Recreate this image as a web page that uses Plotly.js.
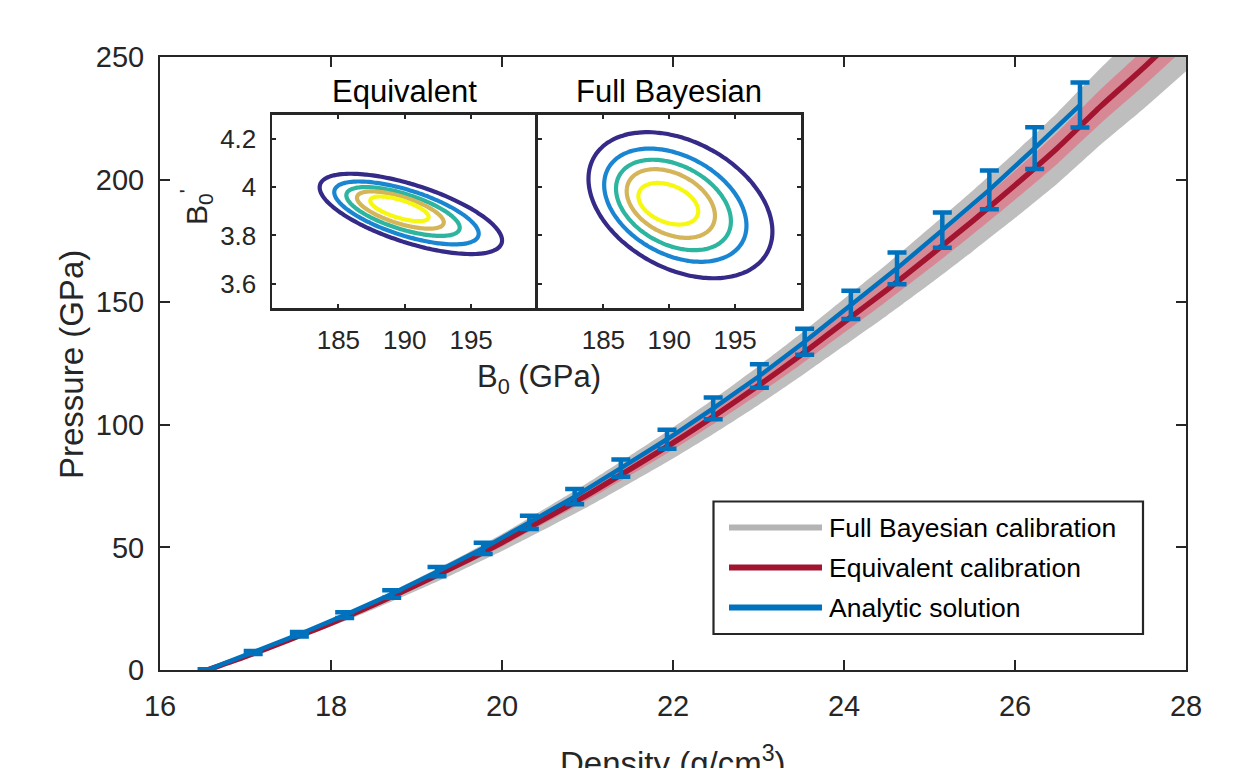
<!DOCTYPE html>
<html>
<head>
<meta charset="utf-8">
<script src="https://cdn.plot.ly/plotly-3.0.1.min.js"></script>
<style>
html,body{margin:0;padding:0;background:#fff;}
#chart{width:1246px;height:768px;}
</style>
</head>
<body>
<div id="chart"></div>
<script>
// ---- Analytic solution (blue points with error bars) ----
const density = [16.55,17.09,17.63,18.16,18.71,19.24,19.78,20.32,20.85,21.39,21.93,22.47,23.01,23.54,24.08,24.62,25.15,25.70,26.23,26.76];
const pressure = [0,7.1,14.6,22.4,31.0,40.1,49.6,60.2,70.7,82.3,94.1,106.7,119.9,133.9,148.9,163.8,179.4,195.8,212.8,230.4];
const pressureErr = [0.3,0.6,0.9,1.2,1.5,1.9,2.3,2.7,3.1,3.5,3.9,4.4,4.8,5.3,5.8,6.5,7.2,7.9,8.5,9.2];

// ---- Calibrated curves ----
const rhoGrid = [16.55,17.0,17.5,18.0,18.5,19.0,19.5,20.0,20.5,21.0,21.5,22.0,22.5,23.0,23.5,24.0,24.5,25.0,25.5,26.0,26.5,27.0,27.5,28.0];
const equivMean = [0,5.5,12.2,19.1,26.6,34.7,43.1,52.0,61.6,71.4,81.9,92.6,104.0,116.0,128.6,141.8,155.0,168.8,183.0,197.7,213.0,229.8,245.5,262.0];
const equivUpper = [0,5.7,12.6,19.7,27.4,35.7,44.4,53.6,63.4,73.5,84.4,95.4,107.1,119.5,132.5,146.1,159.7,173.9,188.5,203.6,219.4,236.7,252.9,269.9];
const equivLower = [0,5.3,11.8,18.5,25.8,33.7,41.8,50.4,59.8,69.3,79.4,89.8,100.9,112.5,124.7,137.5,150.4,163.7,177.5,191.8,206.6,222.9,238.1,254.1];
const fullUpper = [0,5.9,13.0,20.4,28.4,37.1,46.0,55.5,65.8,76.3,87.5,98.9,111.1,123.9,137.3,151.4,165.5,180.3,195.4,211.1,227.5,245.4,262.2,279.8];
const fullLower = [0,5.1,11.4,17.8,24.8,32.3,40.2,48.5,57.4,66.5,76.3,86.3,96.9,108.1,119.9,132.2,144.5,157.3,170.6,184.3,198.5,214.2,228.8,244.2];

// ---- Inset contour levels (outer -> inner) ----
const levelColors = ['#352a87','#1a86d2','#2eb59f','#d4b55a','#f7f812'];
// Equivalent calibration posterior
const eqCx = [190.46,190.13,189.87,189.67,189.60];
const eqCy = [3.889,3.893,3.899,3.905,3.910];
const eqRx = [6.87,5.44,4.27,3.27,2.20];
const eqRy = [0.166,0.130,0.101,0.077,0.051];
const eqRho = -0.66;
// Full Bayesian posterior
const fbCx = [190.85,190.46,190.32,190.12,189.93];
const fbCy = [3.925,3.925,3.926,3.932,3.931];
const fbRx = [6.98,5.40,4.36,3.35,2.27];
const fbRy = [0.302,0.234,0.187,0.142,0.086];
const fbRho = -0.36;

const FONT = 'Liberation Sans, Arial, Helvetica, sans-serif';
const AX = '#262626';
const W = 1246, H = 768;
const px = v => v / W;
const py = v => 1 - v / H;

const traces = [];
// Full Bayesian band
traces.push({x: rhoGrid, y: fullLower, xaxis:'x', yaxis:'y', mode:'lines', line:{width:0, shape:'spline', smoothing:0.6, color:'#bdbdbd'}, showlegend:false, hoverinfo:'skip'});
traces.push({x: rhoGrid, y: fullUpper, xaxis:'x', yaxis:'y', mode:'lines', fill:'tonexty', fillcolor:'#bebebe', line:{width:0, shape:'spline', smoothing:0.6, color:'#bdbdbd'}, showlegend:false, name:'Full Bayesian calibration'});
// Equivalent band
traces.push({x: rhoGrid, y: equivLower, xaxis:'x', yaxis:'y', mode:'lines', line:{width:0, shape:'spline', smoothing:0.6, color:'#d68995'}, showlegend:false, hoverinfo:'skip'});
traces.push({x: rhoGrid, y: equivUpper, xaxis:'x', yaxis:'y', mode:'lines', fill:'tonexty', fillcolor:'#d68995', line:{width:0, shape:'spline', smoothing:0.6, color:'#d68995'}, showlegend:false, hoverinfo:'skip'});
// Equivalent mean line
traces.push({x: rhoGrid, y: equivMean, xaxis:'x', yaxis:'y', mode:'lines', line:{width:5.5, shape:'spline', smoothing:0.6, color:'#a2142f'}, showlegend:false, name:'Equivalent calibration'});
// Analytic solution
traces.push({x: density, y: pressure, xaxis:'x', yaxis:'y', mode:'lines', line:{width:4.5, color:'#0072bd'},
  error_y:{type:'data', array: pressureErr, visible:true, color:'#0072bd', thickness:4.5, width:9.5},
  showlegend:false, name:'Analytic solution'});

// Inset ellipses
function addContours(cx, cy, rx, ry, rho, xa, ya) {
  const n = 160;
  const s = Math.sqrt(1 - rho * rho);
  for (let k = 0; k < cx.length; k++) {
    const xs = [], ys = [];
    for (let i = 0; i <= n; i++) {
      const t = 2 * Math.PI * i / n;
      xs.push(cx[k] + rx[k] * Math.cos(t));
      ys.push(cy[k] + ry[k] * (rho * Math.cos(t) + s * Math.sin(t)));
    }
    traces.push({x: xs, y: ys, xaxis: xa, yaxis: ya, mode:'lines', line:{width:4.2, color: levelColors[k], shape:'spline'}, showlegend:false, hoverinfo:'skip'});
  }
}
addContours(eqCx, eqCy, eqRx, eqRy, eqRho, 'x2', 'y2');
addContours(fbCx, fbCy, fbRx, fbRy, fbRho, 'x3', 'y3');

const mainAxis = {
  showline:true, linecolor:AX, linewidth:2, mirror:'ticks', ticks:'inside', ticklen:10, tickwidth:2, tickcolor:AX,
  showgrid:false, zeroline:false, tickfont:{family:FONT, size:29, color:AX}
};
const insetAxis = {
  showline:true, linecolor:AX, linewidth:2.5, mirror:'ticks', ticks:'inside', ticklen:4, tickwidth:2, tickcolor:AX,
  showgrid:false, zeroline:false, tickfont:{family:FONT, size:26, color:AX}
};

const mainX = [px(160), px(1186)];
const mainY = [py(670), py(57)];

const layout = {
  width: W, height: H,
  margin:{l:0, r:0, t:0, b:0},
  paper_bgcolor:'#ffffff', plot_bgcolor:'rgba(0,0,0,0)',
  showlegend:false,
  xaxis: Object.assign({}, mainAxis, {domain: mainX, range:[16,28], tickvals:[16,18,20,22,24,26,28], anchor:'y', ticklabelstandoff:9}),
  yaxis: Object.assign({}, mainAxis, {domain: mainY, range:[0,250], tickvals:[0,50,100,150,200,250], anchor:'x', ticklabelstandoff:8}),
  xaxis2: Object.assign({}, insetAxis, {domain:[px(272), px(537.5)], range:[180,200], tickvals:[185,190,195], anchor:'y2', ticklabelstandoff:7}),
  yaxis2: Object.assign({}, insetAxis, {domain:[py(308), py(114.5)], range:[3.5,4.3], tickvals:[3.6,3.8,4,4.2], anchor:'x2', ticklabelstandoff:8, mirror:false}),
  xaxis3: Object.assign({}, insetAxis, {domain:[px(537.5), px(801)], range:[180,200], tickvals:[185,190,195], anchor:'y3', ticklabelstandoff:7}),
  yaxis3: Object.assign({}, insetAxis, {domain:[py(308), py(114.5)], range:[3.5,4.3], tickvals:[3.6,3.8,4,4.2], showticklabels:false, anchor:'x3'}),
  shapes: [
    {type:'rect', xref:'paper', yref:'paper', x0:px(713.5), x1:px(1143), y0:py(634), y1:py(501.5), line:{color:AX, width:2.2}, fillcolor:'#ffffff', layer:'above'},
    {type:'line', xref:'paper', yref:'paper', x0:px(729), x1:px(822), y0:py(527.5), y1:py(527.5), line:{color:'#b4b4b4', width:6}, layer:'above'},
    {type:'line', xref:'paper', yref:'paper', x0:px(729), x1:px(822), y0:py(567.5), y1:py(567.5), line:{color:'#a2142f', width:6}, layer:'above'},
    {type:'line', xref:'paper', yref:'paper', x0:px(729), x1:px(822), y0:py(607.5), y1:py(607.5), line:{color:'#0072bd', width:6}, layer:'above'}
  ],
  annotations: [
    {xref:'paper', yref:'paper', x:px(71), y:py(365), text:'Pressure (GPa)', textangle:-90, showarrow:false, xanchor:'center', yanchor:'middle', font:{family:FONT, size:33, color:AX}},
    {xref:'paper', yref:'paper', x:px(673), y:py(761), text:'Density (g/cm<sup>3</sup>)', showarrow:false, xanchor:'center', yanchor:'middle', font:{family:FONT, size:33, color:AX}},
    {xref:'paper', yref:'paper', x:px(404.7), y:py(91), text:'Equivalent', showarrow:false, xanchor:'center', yanchor:'middle', font:{family:FONT, size:31, color:'#000'}},
    {xref:'paper', yref:'paper', x:px(669), y:py(91), text:'Full Bayesian', showarrow:false, xanchor:'center', yanchor:'middle', font:{family:FONT, size:31, color:'#000'}},
    {xref:'paper', yref:'paper', x:px(539), y:py(379), text:'B<sub>0</sub> (GPa)', showarrow:false, xanchor:'center', yanchor:'middle', font:{family:FONT, size:31, color:AX}},
    {xref:'paper', yref:'paper', x:px(196), y:py(207), text:'B<sub>0</sub><sup>\'</sup>', textangle:-90, showarrow:false, xanchor:'center', yanchor:'middle', font:{family:FONT, size:30, color:AX}},
    {xref:'paper', yref:'paper', x:px(827), y:py(527.5), text:'Full Bayesian calibration', showarrow:false, xanchor:'left', yanchor:'middle', font:{family:FONT, size:26.5, color:'#000'}},
    {xref:'paper', yref:'paper', x:px(827), y:py(567.5), text:'Equivalent calibration', showarrow:false, xanchor:'left', yanchor:'middle', font:{family:FONT, size:26.5, color:'#000'}},
    {xref:'paper', yref:'paper', x:px(827), y:py(607.5), text:'Analytic solution', showarrow:false, xanchor:'left', yanchor:'middle', font:{family:FONT, size:26.5, color:'#000'}}
  ]
};

Plotly.newPlot('chart', traces, layout, {staticPlot:true, displayModeBar:false});
</script>
</body>
</html>
